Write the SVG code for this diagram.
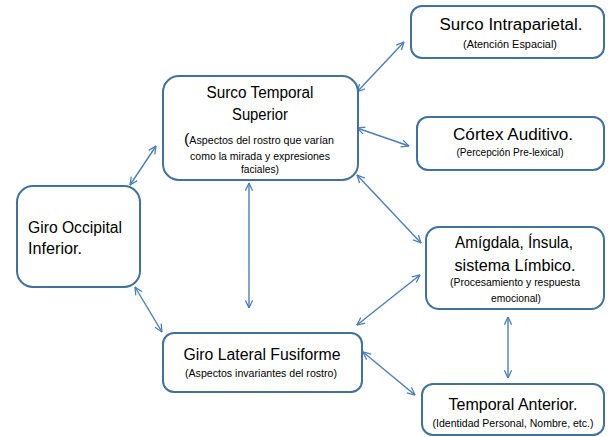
<svg xmlns="http://www.w3.org/2000/svg" width="609" height="437" viewBox="0 0 609 437">
<defs>
<marker id="ah" viewBox="0 0 10 10" refX="9.5" refY="5" markerWidth="9" markerHeight="9" markerUnits="userSpaceOnUse" orient="auto-start-reverse">
<path d="M1,1 L9.5,5 L1,9" fill="none" stroke="#4A7EBB" stroke-width="1.4"/>
</marker>
</defs>
<style>
.box{fill:#fff;stroke:#41719C;stroke-width:2}
.t{font-family:"Liberation Sans",Arial,sans-serif;font-size:16px;fill:#000;text-anchor:middle}
.s{font-family:"Liberation Sans",Arial,sans-serif;font-size:10px;fill:#000;text-anchor:middle}
.c{fill:none;stroke:#4A7EBB;stroke-width:1.4;marker-start:url(#ah);marker-end:url(#ah)}
</style>
<rect width="609" height="437" fill="#fff"/>
<g id="connectors">
<line class="c" x1="357" y1="92" x2="404" y2="42"/>
<line class="c" x1="357" y1="128" x2="409" y2="146"/>
<line class="c" x1="357" y1="175" x2="421" y2="243"/>
<line class="c" x1="156" y1="146" x2="130" y2="185"/>
<line class="c" x1="249" y1="183" x2="249" y2="308"/>
<line class="c" x1="135" y1="287" x2="162" y2="332"/>
<line class="c" x1="420" y1="275" x2="357" y2="325"/>
<line class="c" x1="363" y1="352" x2="415" y2="395"/>
<line class="c" x1="508" y1="317" x2="508" y2="378"/>
</g>
<g id="sts">
<rect class="box" x="163" y="76" width="195" height="104" rx="16"/>
<text class="t" x="260" y="98" textLength="107" lengthAdjust="spacingAndGlyphs">Surco Temporal</text>
<text class="t" x="260" y="120" textLength="56" lengthAdjust="spacingAndGlyphs">Superior</text>
<text class="s" x="259" y="144" textLength="150" lengthAdjust="spacingAndGlyphs"><tspan font-size="15">(</tspan>Aspectos del rostro que varían</text>
<text class="s" x="260" y="160" textLength="140" lengthAdjust="spacingAndGlyphs">como la mirada y expresiones</text>
<text class="s" x="260" y="173" textLength="38" lengthAdjust="spacingAndGlyphs">faciales)</text>
</g>
<g id="intraparietal">
<rect class="box" x="411" y="6" width="193" height="52" rx="11"/>
<text class="t" x="511" y="30" textLength="143" lengthAdjust="spacingAndGlyphs">Surco Intraparietal.</text>
<text class="s" x="510" y="48" textLength="94" lengthAdjust="spacingAndGlyphs">(Atención Espacial)</text>
</g>
<g id="auditivo">
<rect class="box" x="417" y="117" width="187" height="53" rx="11"/>
<text class="t" x="513" y="140" textLength="120" lengthAdjust="spacingAndGlyphs">Córtex  Auditivo.</text>
<text class="s" x="510" y="156" textLength="107" lengthAdjust="spacingAndGlyphs">(Percepción Pre-lexical)</text>
</g>
<g id="occipital">
<rect class="box" x="17" y="186" width="123" height="101" rx="16"/>
<text class="t" x="28" y="233" style="text-anchor:start" textLength="94" lengthAdjust="spacingAndGlyphs">Giro Occipital</text>
<text class="t" x="28" y="254" style="text-anchor:start" textLength="54" lengthAdjust="spacingAndGlyphs">Inferior.</text>
</g>
<g id="amigdala">
<rect class="box" x="426" y="227" width="178" height="82" rx="13"/>
<text class="t" x="514" y="248" textLength="118" lengthAdjust="spacingAndGlyphs">Amígdala, Ínsula,</text>
<text class="t" x="515" y="271" textLength="121" lengthAdjust="spacingAndGlyphs">sistema Límbico.</text>
<text class="s" x="515" y="286" textLength="130" lengthAdjust="spacingAndGlyphs">(Procesamiento y respuesta</text>
<text class="s" x="516" y="302" textLength="50" lengthAdjust="spacingAndGlyphs">emocional)</text>
</g>
<g id="anterior">
<rect class="box" x="422" y="384" width="182" height="51" rx="11"/>
<text class="t" x="513" y="410" textLength="129" lengthAdjust="spacingAndGlyphs">Temporal Anterior.</text>
<text class="s" x="513" y="427" textLength="161" lengthAdjust="spacingAndGlyphs">(Identidad Personal, Nombre, etc.)</text>
</g>
<g id="fusiforme">
<rect class="box" x="163" y="333" width="199" height="59" rx="11"/>
<text class="t" x="262" y="360" textLength="157" lengthAdjust="spacingAndGlyphs">Giro Lateral Fusiforme</text>
<text class="s" x="261" y="377" textLength="152" lengthAdjust="spacingAndGlyphs">(Aspectos invariantes del rostro)</text>
</g>
</svg>
